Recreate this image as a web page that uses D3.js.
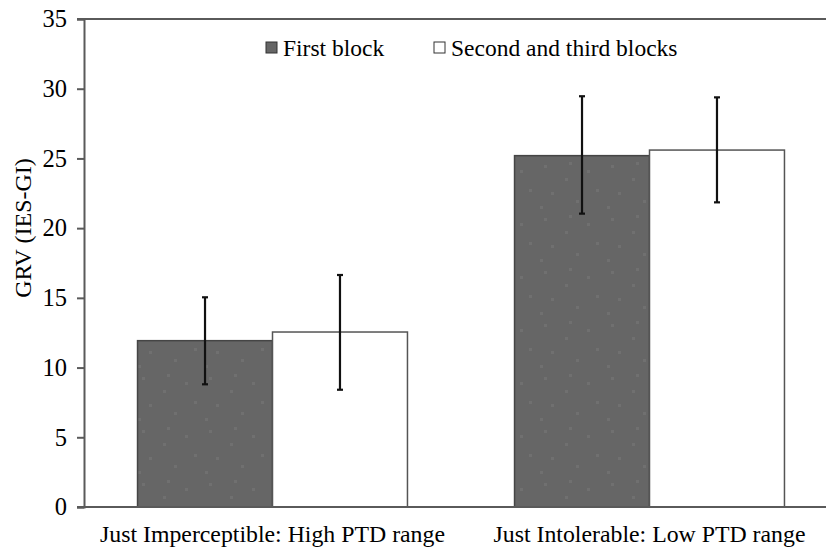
<!DOCTYPE html>
<html><head><meta charset="utf-8">
<script src="https://cdn.jsdelivr.net/npm/d3@7"></script>
<style>body{margin:0;background:#fff}svg{display:block}text{font-family:"Liberation Serif","Times New Roman",serif}</style>
</head><body><svg id="c" width="826" height="550"></svg>
<script>
const categories = ["Just Imperceptible: High PTD range", "Just Intolerable: Low PTD range"];
const series = ["First block", "Second and third blocks"];
const means = [[11.93, 12.55], [25.20, 25.60]];
const errLow = [[8.80, 8.41], [21.04, 21.85]];
const errHigh = [[15.04, 16.64], [29.46, 29.38]];
const yTicks = [0, 5, 10, 15, 20, 25, 30, 35];
const colors = ["#666666", "#ffffff"];
const strokes = ["#454545", "#555555"];

const svg = d3.select("#c");
const L = 84, T = 19, B = 507, R = 838;
const y = d3.scaleLinear().domain([0, 35]).range([B, T]);
const x0 = d3.scaleBand().domain(categories).range([L, R]).paddingInner(0.284).paddingOuter(0.142);
const x1 = d3.scaleBand().domain(series).range([0, x0.bandwidth()]);

// subtle speckle texture for the dark bars
const defs = svg.append("defs");
const pat = defs.append("pattern").attr("id", "speck").attr("patternUnits", "userSpaceOnUse")
  .attr("width", 67).attr("height", 53);
pat.append("rect").attr("width", 67).attr("height", 53).attr("fill", colors[0]);
[[8, 6], [29, 19], [51, 11], [15, 33], [40, 41], [60, 30], [4, 47], [33, 3]].forEach(p =>
  pat.append("rect").attr("x", p[0]).attr("y", p[1]).attr("width", 3).attr("height", 3).attr("fill", "#707070"));
const fills = ["url(#speck)", colors[1]];

const data = [];
categories.forEach((c, i) => series.forEach((s, j) => data.push({c, s, j, v: means[i][j], lo: errLow[i][j], hi: errHigh[i][j]})));

svg.append("g").selectAll("rect").data(data).join("rect")
  .attr("x", d => x0(d.c) + x1(d.s))
  .attr("y", d => y(d.v))
  .attr("width", x1.bandwidth())
  .attr("height", d => y(0) - y(d.v))
  .attr("fill", d => fills[d.j])
  .attr("stroke", d => strokes[d.j])
  .attr("stroke-width", 1.5);

svg.append("line").attr("x1", L - 7).attr("x2", 826).attr("y1", y(35)).attr("y2", y(35))
  .attr("stroke", "#5a5a5a").attr("stroke-width", 2);

const ya = svg.append("g").attr("transform", `translate(${L},0)`)
  .call(d3.axisLeft(y).tickValues(yTicks).tickSize(7).tickPadding(10).tickFormat(d3.format("d")));
ya.select(".domain").attr("stroke", "#5a5a5a").attr("stroke-width", 2);
ya.selectAll(".tick line").attr("stroke", "#5a5a5a").attr("stroke-width", 2);
ya.selectAll(".tick text").attr("font-size", 24.5).attr("fill", "#000");

svg.append("line").attr("x1", L - 7).attr("x2", 826).attr("y1", y(0)).attr("y2", y(0))
  .attr("stroke", "#5a5a5a").attr("stroke-width", 2);

svg.append("g").selectAll("text").data(categories).join("text")
  .attr("x", d => x0(d) + x0.bandwidth() / 2)
  .attr("y", 542)
  .attr("text-anchor", "middle")
  .attr("font-size", 23.8).attr("fill", "#000")
  .text(d => d);

const eg = svg.append("g").attr("stroke", "#111").attr("stroke-width", 2.2);
data.forEach(d => {
  const cx = x0(d.c) + x1(d.s) + x1.bandwidth() / 2;
  eg.append("line").attr("x1", cx).attr("x2", cx).attr("y1", y(d.lo)).attr("y2", y(d.hi));
  eg.append("line").attr("x1", cx - 3).attr("x2", cx + 3).attr("y1", y(d.lo)).attr("y2", y(d.lo));
  eg.append("line").attr("x1", cx - 3).attr("x2", cx + 3).attr("y1", y(d.hi)).attr("y2", y(d.hi));
});

svg.append("text").attr("transform", "translate(31,228) rotate(-90)")
  .attr("text-anchor", "middle").attr("font-size", 24).attr("fill", "#000")
  .text("GRV (IES-GI)");

const legX = [266, 434];
const lg = svg.append("g");
series.forEach((s, j) => {
  lg.append("rect").attr("x", legX[j]).attr("y", 42).attr("width", 11).attr("height", 11)
    .attr("fill", colors[j]).attr("stroke", "#333").attr("stroke-width", 1);
  lg.append("text").attr("x", legX[j] + 17).attr("y", 56).attr("font-size", 23.5).attr("fill", "#000").text(s);
});
</script></body></html>
